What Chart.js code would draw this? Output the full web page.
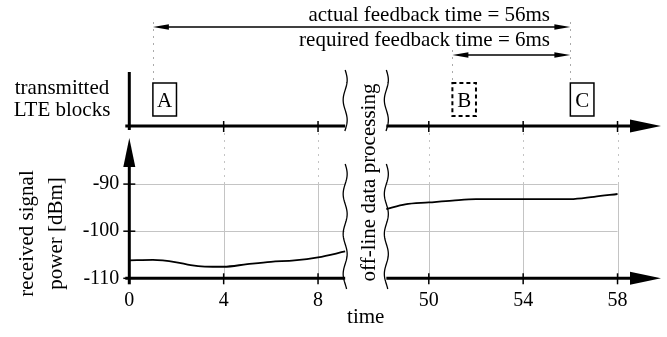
<!DOCTYPE html>
<html><head><meta charset="utf-8">
<script src="https://cdn.jsdelivr.net/npm/chart.js@4.4.0/dist/chart.umd.min.js"></script>
<style>html,body{margin:0;padding:0;background:#fff}canvas{display:block}</style>
</head><body>
<canvas id="c" width="667" height="337"></canvas>
<script>
// ---- data ----
const leftTime  = [0, 1, 2, 2.6, 3.2, 4, 5, 6, 7, 8, 9.15];
const leftPower = [-106.2, -106.1, -106.6, -107.2, -107.5, -107.55, -107.0, -106.5, -106.2, -105.55, -104.3];
const rightTime  = [48.2, 49, 50, 51, 52, 54, 56, 57, 58];
const rightPower = [-95.3, -94.3, -93.9, -93.5, -93.2, -93.2, -93.2, -92.7, -92.1];
const xTickValues = [0, 4, 8, 50, 54, 58];
const yTickValues = [-110, -100, -90];
const gridTimes = [4, 8, 50, 54, 58];
const blockLabels = ['A', 'B', 'C'];
const blockStart = [1, 51, 56];
const blockDashed = [false, true, false];
const feedbackLabels = ['actual feedback time = 56ms', 'required feedback time = 6ms'];
const feedbackFrom = [1, 51];
const feedbackTo = [56, 56];
const breakFrom = 9.15, breakTo = 48.2;

// ---- broken linear scale ----
class BrokenLinearScale extends Chart.LinearScale {
  _u(v) {
    const b = this.options.breakRange;
    if (!b || v <= b[0]) return v;
    return v - (b[1] - b[0]) + b[2];
  }
  getPixelForValue(v) {
    if (v === null || v === undefined) return NaN;
    const a = this._u(this.min), z = this._u(this.max);
    return this.getPixelForDecimal((this._u(v) - a) / (z - a));
  }
  getValueForPixel(p) {
    const a = this._u(this.min), z = this._u(this.max);
    const u = a + this.getDecimalForPixel(p) * (z - a);
    const b = this.options.breakRange;
    if (!b || u <= b[0]) return u;
    return u + (b[1] - b[0]) - b[2];
  }
}
BrokenLinearScale.id = 'brokenLinear';
BrokenLinearScale.defaults = Object.assign({}, Chart.LinearScale.defaults);
Chart.register(BrokenLinearScale);

const SERIF = '"Liberation Serif", "Times New Roman", serif';

function tri(ctx, pts) {
  ctx.beginPath(); ctx.moveTo(pts[0][0], pts[0][1]);
  for (let i = 1; i < pts.length; i++) ctx.lineTo(pts[i][0], pts[i][1]);
  ctx.closePath(); ctx.fill();
}
function line(ctx, x1, y1, x2, y2) {
  ctx.beginPath(); ctx.moveTo(x1, y1); ctx.lineTo(x2, y2); ctx.stroke();
}
function squiggle(ctx, x, y0, y1) {
  ctx.beginPath();
  const n = 80;
  for (let i = 0; i <= n; i++) {
    const y = y0 + (y1 - y0) * i / n;
    const dx = 2 * Math.sin((y - y0) / 20 * Math.PI);
    if (i === 0) ctx.moveTo(x + dx, y); else ctx.lineTo(x + dx, y);
  }
  ctx.stroke();
}

const deco = {
  id: 'deco',
  beforeDatasetsDraw(chart) {
    const ctx = chart.ctx, xs = chart.scales.x, ys = chart.scales.y;
    const topAxisY = 126;
    ctx.save();
    ctx.strokeStyle = '#c4c4c4'; ctx.lineWidth = 1;
    [-100, -90].forEach(v => {
      const y = Math.round(ys.getPixelForValue(v)) + 0.5;
      line(ctx, xs.getPixelForValue(0), y, xs.getPixelForValue(breakFrom), y);
      line(ctx, xs.getPixelForValue(breakTo), y, xs.getPixelForValue(58), y);
    });
    gridTimes.forEach(t => {
      const x = Math.round(xs.getPixelForValue(t)) + 0.5;
      ctx.setLineDash([]);
      line(ctx, x, ys.getPixelForValue(-110), x, ys.getPixelForValue(-90));
      ctx.setLineDash([2, 5]);
      line(ctx, x, topAxisY, x, ys.getPixelForValue(-90));
    });
    ctx.restore();
  },
  afterDatasetsDraw(chart) {
    const ctx = chart.ctx, xs = chart.scales.x, ys = chart.scales.y;
    const X = t => xs.getPixelForValue(t);
    const x0 = X(0);
    const bottomY = ys.getPixelForValue(-110);
    const topAxisY = 126;
    const xa = X(breakFrom), xb = X(breakTo);
    const axisEnd = 632, arrowTip = 661;
    ctx.save();
    ctx.fillStyle = '#000'; ctx.strokeStyle = '#000';

    // axes lines
    ctx.lineWidth = 3;
    [topAxisY, bottomY].forEach(y => {
      line(ctx, x0 - 4, y, xa, y);
      line(ctx, xb, y, axisEnd, y);
      tri(ctx, [[axisEnd - 2, y - 6.5], [arrowTip, y], [axisEnd - 2, y + 6.5]]);
    });
    line(ctx, x0, 72, x0, 130);
    line(ctx, x0, 165, x0, bottomY + 6);
    tri(ctx, [[x0 - 6, 167], [x0, 138], [x0 + 6, 167]]);

    // tick marks
    ctx.lineWidth = 1.5;
    gridTimes.forEach(t => {
      const x = X(t);
      line(ctx, x, topAxisY - 5, x, topAxisY + 6);
      line(ctx, x, bottomY - 5, x, bottomY + 6);
    });
    yTickValues.forEach(v => {
      const y = ys.getPixelForValue(v);
      line(ctx, x0 - 6, y, x0 + 6, y);
    });

    // squiggles
    ctx.lineWidth = 1.3;
    [xa, xb].forEach(x => {
      squiggle(ctx, x, 70, 131);
      squiggle(ctx, x, 164, 289);
    });

    // dotted guide lines
    ctx.strokeStyle = '#aaa'; ctx.lineWidth = 1; ctx.setLineDash([2, 5]);
    line(ctx, Math.round(X(feedbackFrom[0])) + 0.5, 22, Math.round(X(feedbackFrom[0])) + 0.5, 83);
    line(ctx, Math.round(X(feedbackFrom[1])) + 0.5, 50, Math.round(X(feedbackFrom[1])) + 0.5, 83);
    line(ctx, Math.round(X(feedbackTo[0])) + 0.5, 22, Math.round(X(feedbackTo[0])) + 0.5, 83);
    ctx.setLineDash([]);
    ctx.strokeStyle = '#000';

    // feedback arrows
    const arrowYs = [27, 55];
    ctx.lineWidth = 1.3;
    feedbackFrom.forEach((f, i) => {
      const y = arrowYs[i], xl = X(f), xr = X(feedbackTo[i]);
      line(ctx, xl + 10, y, xr - 10, y);
      tri(ctx, [[xl, y], [xl + 16, y - 2.8], [xl + 16, y + 2.8]]);
      tri(ctx, [[xr, y], [xr - 16, y - 2.8], [xr - 16, y + 2.8]]);
    });

    // blocks
    ctx.font = '21px ' + SERIF;
    ctx.textAlign = 'center'; ctx.textBaseline = 'alphabetic';
    blockLabels.forEach((lab, i) => {
      const xl = X(blockStart[i]), xr = X(blockStart[i] + 1);
      ctx.lineWidth = blockDashed[i] ? 2 : 1.5;
      ctx.setLineDash(blockDashed[i] ? [4, 3] : []);
      ctx.strokeRect(xl, 83, xr - xl, 33);
      ctx.setLineDash([]);
      ctx.fillText(lab, (xl + xr) / 2, 107);
    });

    // texts
    ctx.textAlign = 'right';
    ctx.fillText(feedbackLabels[0], 550, 21);
    ctx.fillText(feedbackLabels[1], 550, 46);
    ctx.textAlign = 'center';
    ctx.fillText('transmitted', 62, 94);
    ctx.fillText('LTE blocks', 62, 115.5);
    ctx.fillText('time', (xa + xb) / 2, 323);

    ctx.save();
    ctx.translate(375, 182.5); ctx.rotate(-Math.PI / 2);
    ctx.textAlign = 'center'; ctx.textBaseline = 'alphabetic';
    ctx.fillText('off-line data processing', 0, 0);
    ctx.restore();

    ctx.save();
    ctx.translate(33, 233.5); ctx.rotate(-Math.PI / 2);
    ctx.fillText('received signal', 0, 0);
    ctx.fillText('power [dBm]', 0, 28.5);
    ctx.restore();

    ctx.restore();
  }
};

new Chart(document.getElementById('c'), {
  type: 'line',
  data: {
    datasets: [
      { data: leftTime.map((t, i) => ({ x: t, y: leftPower[i] })) },
      { data: rightTime.map((t, i) => ({ x: t, y: rightPower[i] })) }
    ]
  },
  options: {
    responsive: false,
    animation: false,
    events: [],
    layout: { padding: { top: 137, right: 7, left: 0, bottom: 0 } },
    elements: {
      point: { radius: 0 },
      line: { borderColor: '#000', borderWidth: 1.8, cubicInterpolationMode: 'monotone', fill: false }
    },
    plugins: { legend: { display: false }, tooltip: { enabled: false }, title: { display: false } },
    scales: {
      x: {
        type: 'brokenLinear',
        min: 0, max: 59.8, bounds: 'data',
        breakRange: [breakFrom, breakTo, 1.745],
        afterBuildTicks: s => { s.ticks = xTickValues.map(v => ({ value: v })); },
        afterFit: s => { s.height = 58.7; },
        grid: { display: false, drawTicks: false },
        border: { display: false },
        ticks: { autoSkip: false, maxRotation: 0, padding: 10, color: '#000',
                 font: { family: SERIF, size: 20 }, callback: v => String(v) }
      },
      y: {
        type: 'linear',
        min: -110, max: -80, bounds: 'data',
        afterBuildTicks: s => { s.ticks = yTickValues.map(v => ({ value: v })); },
        afterFit: s => { s.width = 129.3; },
        grid: { display: false, drawTicks: false },
        border: { display: false },
        ticks: { padding: 10, color: '#000', font: { family: SERIF, size: 20 }, callback: v => String(v) }
      }
    }
  },
  plugins: [deco]
});
</script>
</body></html>
